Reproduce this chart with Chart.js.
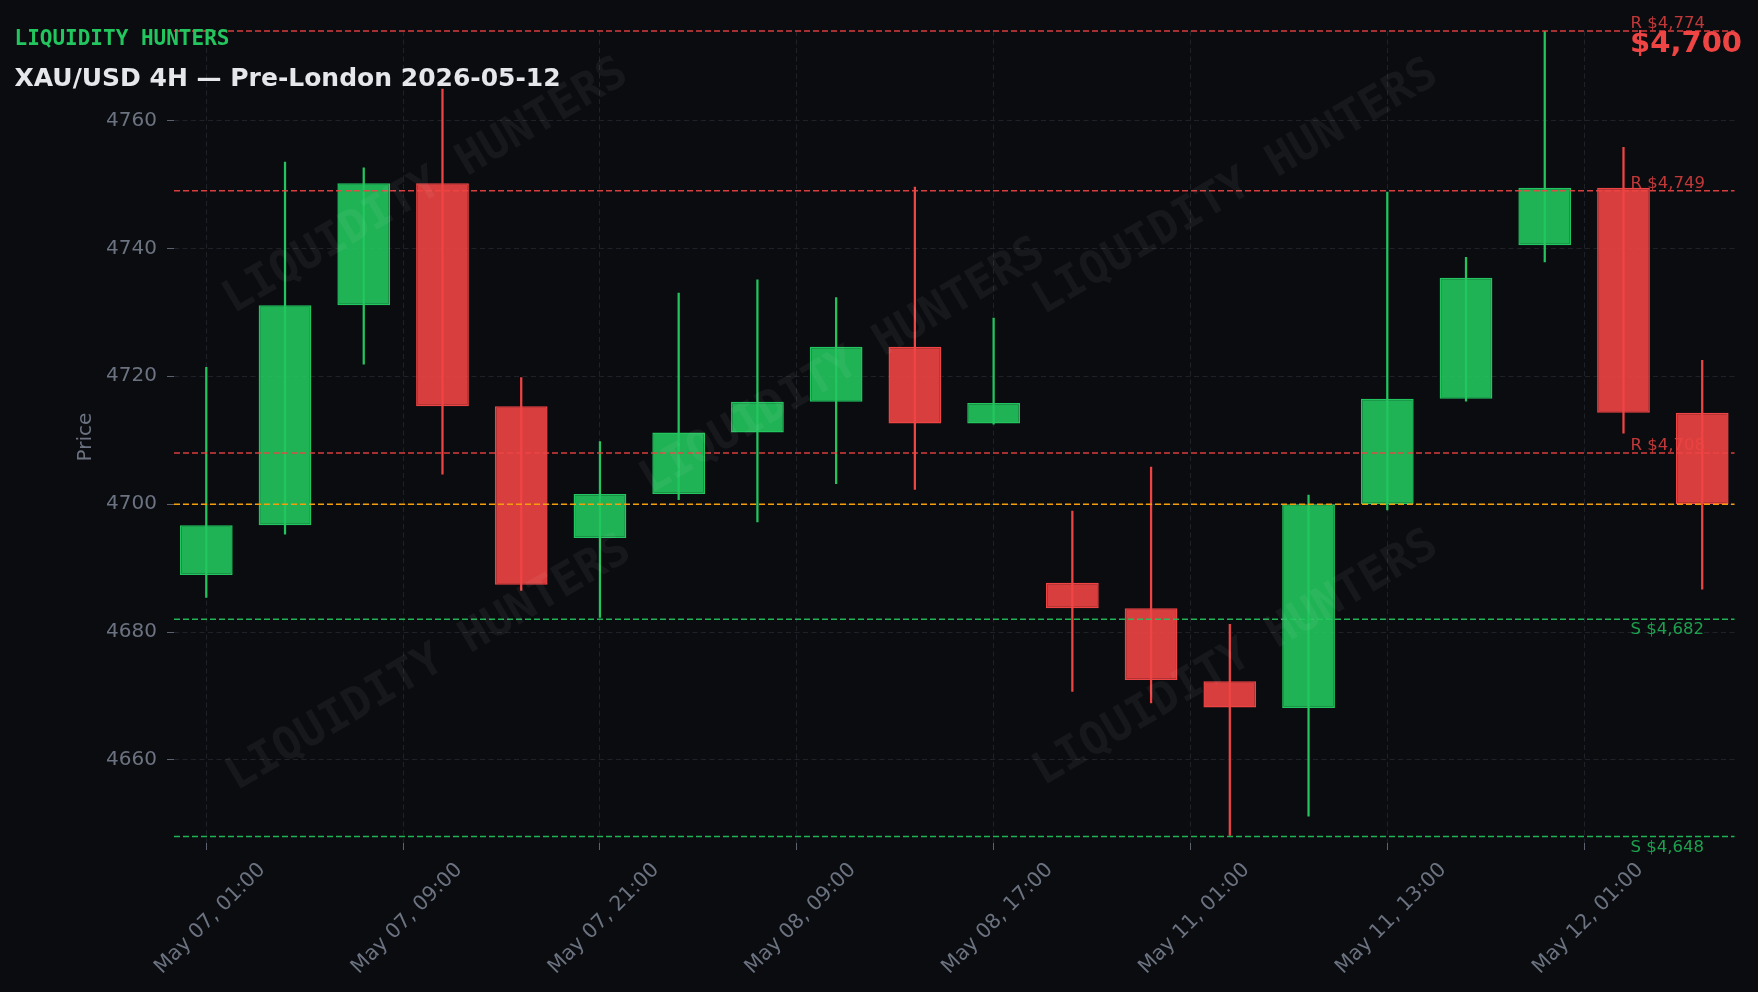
<!DOCTYPE html>
<html>
<head>
<meta charset="utf-8">
<script src="https://cdn.jsdelivr.net/npm/chart.js@4.4.1/dist/chart.umd.min.js"></script>
<style>
  html, body { margin: 0; padding: 0; background: #0b0c10; }
  canvas { display: block; }
</style>
</head>
<body>
<canvas id="chart" width="1758" height="992"></canvas>
<script>
// --- Données (bougies 4H XAU/USD) ---
const OPENS  = [4688.9, 4696.7, 4731.1, 4750.2, 4715.3, 4694.7, 4701.6, 4711.2, 4716.0, 4724.6,
                4712.6, 4687.7, 4683.7, 4672.3, 4668.1, 4700.0, 4716.5, 4740.5, 4749.5, 4714.3];
const HIGHS  = [4721.4, 4753.5, 4752.6, 4764.9, 4719.8, 4709.8, 4733.0, 4735.1, 4732.3, 4749.6,
                4729.1, 4698.9, 4705.8, 4681.2, 4701.4, 4748.8, 4738.6, 4774.0, 4755.8, 4722.5];
const LOWS   = [4685.4, 4695.3, 4721.9, 4704.7, 4686.5, 4682.3, 4700.7, 4697.2, 4703.2, 4702.3,
                4712.5, 4670.7, 4668.9, 4648.2, 4651.2, 4699.1, 4716.1, 4737.9, 4711.1, 4686.7];
const CLOSES = [4696.7, 4731.1, 4750.2, 4715.3, 4687.4, 4701.6, 4711.2, 4716.0, 4724.6, 4712.6,
                4715.8, 4683.7, 4672.5, 4668.2, 4700.0, 4716.5, 4735.4, 4749.5, 4714.3, 4700.0];

const X_TICKS = [0, 2.5, 5, 7.5, 10, 12.5, 15, 17.5];
const X_TICK_LABELS = ['May 07, 01:00', 'May 07, 09:00', 'May 07, 21:00', 'May 08, 09:00',
                       'May 08, 17:00', 'May 11, 01:00', 'May 11, 13:00', 'May 12, 01:00'];
const Y_TICKS = [4660, 4680, 4700, 4720, 4740, 4760];

const RES_LEVELS = [4774, 4749, 4708];
const SUP_LEVELS = [4682, 4648];
const LAST_PRICE = 4700;

const X_MIN = -0.41, X_MAX = 19.41;
const Y_MIN = 4647, Y_MAX = 4774;

// --- Couleurs ---
const BG = '#0b0c10';
const GREEN = '#22c55e';
const RED = '#ef4444';
const ORANGE = '#f59e0b';
const GRID = '#1f2128';
const MUTED = '#6b7280';
const FONT = 'DejaVu Sans';

Chart.defaults.font.family = FONT;

const idx = OPENS.map((_, i) => i);
const isUp = (i) => CLOSES[i] >= OPENS[i];

const levelSet = (lvl, color) => ({
  type: 'line',
  data: [{ x: X_MIN, y: lvl }, { x: X_MAX, y: lvl }],
  borderColor: color,
  borderWidth: 1.5,
  borderDash: [6, 3],
  pointRadius: 0,
  clip: false
});

const datasets = [
  ...RES_LEVELS.map(l => levelSet(l, 'rgba(239,68,68,0.9)')),
  levelSet(LAST_PRICE, ORANGE),
  ...SUP_LEVELS.map(l => levelSet(l, 'rgba(34,197,94,0.9)')),
  {
    type: 'bar',
    grouped: false,
    data: idx.map(i => ({ x: i, y: [OPENS[i], CLOSES[i]] })),
    backgroundColor: idx.map(i => isUp(i) ? 'rgba(34,197,94,0.9)' : 'rgba(239,68,68,0.9)'),
    borderColor: idx.map(i => isUp(i) ? GREEN : RED),
    borderWidth: 1.5,
    borderSkipped: false,
    barPercentage: 0.67,
    categoryPercentage: 1
  },
  {
    type: 'bar',
    grouped: false,
    data: idx.map(i => ({ x: i, y: [LOWS[i], HIGHS[i]] })),
    backgroundColor: idx.map(i => isUp(i) ? GREEN : RED),
    borderWidth: 0,
    barPercentage: 1,
    categoryPercentage: 1,
    maxBarThickness: 1.6
  }
];

// --- Textes, niveaux et filigrane ---
const WATERMARKS = [[426, 187], [843, 367], [1236, 188], [429, 664], [1236, 659]];

const overlay = {
  id: 'overlay',
  afterDatasetsDraw(chart) {
    const { ctx, scales: { y } } = chart;
    ctx.save();
    ctx.font = 'bold 45px "DejaVu Sans Mono"';
    ctx.fillStyle = 'rgba(255,255,255,0.05)';
    ctx.textAlign = 'center';
    ctx.textBaseline = 'middle';
    WATERMARKS.forEach(([px, py]) => {
      ctx.save();
      ctx.translate(px, py);
      ctx.rotate(-30.5 * Math.PI / 180);
      ctx.fillText('LIQUIDITY HUNTERS', 0, 0);
      ctx.restore();
    });

    ctx.font = `16.5px "${FONT}"`;
    ctx.textAlign = 'left';
    ctx.textBaseline = 'alphabetic';
    const lx = chart.chartArea.right - 104;
    RES_LEVELS.forEach(l => {
      ctx.fillStyle = 'rgba(239,68,68,0.8)';
      ctx.fillText('R $' + l.toLocaleString('en-US'), lx, y.getPixelForValue(l) - 3);
    });
    SUP_LEVELS.forEach(l => {
      ctx.fillStyle = 'rgba(34,197,94,0.8)';
      ctx.fillText('S $' + l.toLocaleString('en-US'), lx, y.getPixelForValue(l) + 15);
    });
    ctx.restore();
  },
  afterDraw(chart) {
    const { ctx } = chart;
    ctx.save();
    ctx.textBaseline = 'alphabetic';
    ctx.textAlign = 'left';
    ctx.fillStyle = GREEN;
    ctx.font = 'bold 21px "DejaVu Sans Mono"';
    ctx.fillText('LIQUIDITY HUNTERS', 14.5, 45);
    ctx.fillStyle = '#e5e7eb';
    ctx.font = `bold 25px "${FONT}"`;
    ctx.fillText('XAU/USD 4H — Pre-London 2026-05-12', 14.5, 86);
    ctx.textAlign = 'right';
    ctx.fillStyle = RED;
    ctx.font = `bold 29px "${FONT}"`;
    ctx.fillText('$' + LAST_PRICE.toLocaleString('en-US'), 1742, 52);
    ctx.restore();
  }
};

const bgPlugin = {
  id: 'bg',
  beforeDraw(chart) {
    const { ctx, width, height } = chart;
    ctx.save();
    ctx.fillStyle = BG;
    ctx.fillRect(0, 0, width, height);
    ctx.restore();
  }
};

new Chart(document.getElementById('chart'), {
  type: 'bar',
  data: { datasets },
  plugins: [bgPlugin, overlay],
  options: {
    responsive: false,
    animation: false,
    layout: { padding: { top: 31, right: 23.5, left: 0, bottom: 0 } },
    plugins: { legend: { display: false }, tooltip: { enabled: false } },
    scales: {
      x: {
        type: 'linear',
        min: X_MIN,
        max: X_MAX,
        offset: false,
        afterBuildTicks: (s) => { s.ticks = X_TICKS.map(v => ({ value: v })); },
        afterFit: (s) => { s.height = 149; },
        grid: { offset: false, color: GRID, lineWidth: 1, tickLength: 7, tickColor: '#5b616d', tickWidth: 1 },
        border: { display: false, dash: [5, 3.5] },
        ticks: {
          autoSkip: false,
          minRotation: 45,
          maxRotation: 45,
          labelOffset: 56,
          padding: 8,
          color: MUTED,
          font: { size: 20.5 },
          callback: (v, i) => X_TICK_LABELS[i]
        }
      },
      y: {
        min: Y_MIN,
        max: Y_MAX,
        afterBuildTicks: (s) => { s.ticks = Y_TICKS.map(v => ({ value: v })); },
        afterFit: (s) => { s.width = 174; },
        grid: { color: GRID, lineWidth: 1, tickLength: 7, tickColor: '#5b616d', tickWidth: 1 },
        border: { display: false, dash: [5, 3.5] },
        ticks: { padding: 10, color: MUTED, font: { size: 20 }, callback: (v) => String(v) },
        title: { display: true, text: 'Price', color: MUTED, font: { size: 20 }, padding: { top: 74, bottom: 0 } }
      }
    }
  }
});
</script>
</body>
</html>
